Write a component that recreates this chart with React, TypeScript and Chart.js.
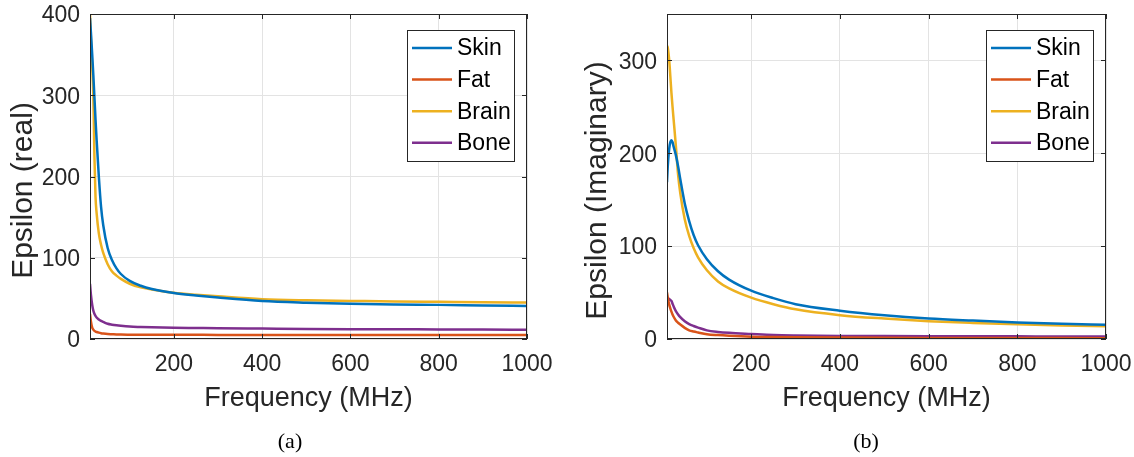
import React, { useEffect, useRef } from "react";
import { Chart, registerables } from "chart.js";

Chart.register(...registerables);

// ---------- data ----------
const freqMHz = [10, 12, 15, 17.5, 20, 22.5, 25, 30, 35, 40, 50, 60, 70, 80, 100, 125, 150, 200, 250, 300, 400, 500, 600, 700, 800, 900, 1000];

const seriesNames = ["Skin", "Fat", "Brain", "Bone"];
const seriesColors = ["#0072BD", "#D95319", "#EDB120", "#7E2F8E"];

// (a) real part
const realSkin = [395, 378, 350, 325, 298, 270, 245, 200, 163, 140, 112, 97, 87, 80, 71.5, 65.5, 61.5, 56.5, 53.5, 51, 46.8, 44.7, 43.3, 42.5, 42, 41.3, 40.7];
const realFat = [31, 22, 14, 11.5, 10, 9.2, 8.6, 7.8, 7.2, 6.8, 6.2, 5.9, 5.6, 5.4, 5.3, 5.25, 5.2, 5.15, 5.1, 5.05, 5.0, 5.0, 4.97, 4.95, 4.93, 4.92, 4.9];
const realBrain = [400, 370, 335, 300, 225, 175, 155, 130, 116, 106, 92, 83, 78, 74, 68, 63.5, 61, 57, 54.5, 52.5, 49, 47.6, 46.9, 46.2, 45.7, 45.2, 44.8];
const realBone = [68, 55, 42, 35, 31, 28.5, 26.5, 24, 22.2, 21, 18.7, 17.6, 16.8, 16.2, 15.3, 14.8, 14.4, 13.8, 13.5, 13.2, 12.8, 12.4, 12.1, 11.9, 11.8, 11.6, 11.5];

// (b) imaginary part
const imagSkin = [169, 188, 205, 212, 214, 212, 207, 198, 186, 172, 146, 127, 112, 101, 86, 73, 64, 52, 44, 37.5, 30.5, 25.5, 22, 19.8, 17.9, 16.5, 15.4];
const imagFat = [50, 44, 37, 33, 29.5, 26.5, 24, 20, 17.5, 15.5, 12, 9.3, 8, 7, 5.2, 4.2, 3.5, 2.5, 2.1, 1.8, 1.5, 1.3, 1.2, 1.1, 1.0, 0.95, 0.9];
const imagBrain = [316, 313, 300, 283, 265, 250, 236, 208, 177, 157, 129, 111, 98, 88, 74, 62, 54.5, 44.5, 37.5, 32, 25.7, 22, 19.2, 17.3, 15.8, 14.6, 13.6];
const imagBone = [43.5, 44, 43, 42, 41, 38, 35, 30, 26.5, 23.5, 19, 16, 14, 12.3, 9.3, 7.6, 6.6, 5.4, 4.3, 3.8, 3.3, 3.1, 3.0, 2.9, 2.85, 2.8, 2.8];

const xTicks = [200, 400, 600, 800, 1000];
const yTicksReal = [0, 100, 200, 300, 400];
const yTicksImag = [0, 100, 200, 300];

const xTitle = "Frequency (MHz)";
const yTitleReal = "Epsilon (real)";
const yTitleImag = "Epsilon (Imaginary)";

// ---------- styling ----------
const SANS = "'Liberation Sans', Arial, Helvetica, sans-serif";
const AXIS_COLOR = "#262626";
const GRID_COLOR = "#e3e3e3";
const W = 567;
const H = 457;

const framePlugin = {
  id: "frameTicks",
  afterDatasetsDraw(chart: any) {
    const { ctx, chartArea: a, scales } = chart;
    const xs = scales.x;
    const ys = scales.y;
    ctx.save();
    ctx.strokeStyle = AXIS_COLOR;
    ctx.lineWidth = 1;
    const L = 5;
    ctx.beginPath();
    (xs.ticks || []).forEach((t: any) => {
      const px = Math.round(xs.getPixelForValue(t.value)) + 0.5;
      ctx.moveTo(px, a.bottom);
      ctx.lineTo(px, a.bottom - L);
      ctx.moveTo(px, a.top);
      ctx.lineTo(px, a.top + L);
    });
    (ys.ticks || []).forEach((t: any) => {
      const py = Math.round(ys.getPixelForValue(t.value)) + 0.5;
      ctx.moveTo(a.left, py);
      ctx.lineTo(a.left + L, py);
      ctx.moveTo(a.right, py);
      ctx.lineTo(a.right - L, py);
    });
    ctx.stroke();
    ctx.strokeRect(a.left + 0.5, a.top + 0.5, a.right - a.left - 1, a.bottom - a.top - 1);
    ctx.restore();
  },
};

// y-axis title, drawn slightly below the axis centre as in the original figure
const yTitlePlugin = {
  id: "yTitle",
  afterDraw(chart: any, _args: any, opts: any) {
    const { ctx, chartArea: a } = chart;
    const t = chart.options.scales.y.title;
    if (!t || !t.text) return;
    ctx.save();
    ctx.translate(opts.x, (a.top + a.bottom) / 2 + opts.dy);
    ctx.rotate(-Math.PI / 2);
    ctx.fillStyle = AXIS_COLOR;
    ctx.font = `${opts.size}px ${SANS}`;
    ctx.textAlign = "center";
    ctx.textBaseline = "middle";
    ctx.fillText(t.text, 0, 0);
    ctx.restore();
  },
};

const legendPlugin = {
  id: "boxLegend",
  afterDraw(chart: any) {
    const { ctx, chartArea: a } = chart;
    const w = 107;
    const h = 131;
    const right = a.right - 13;
    const top = a.top + 16;
    const left = right - w;
    ctx.save();
    ctx.fillStyle = "#ffffff";
    ctx.fillRect(left, top, w, h);
    ctx.strokeStyle = AXIS_COLOR;
    ctx.lineWidth = 1;
    ctx.strokeRect(left + 0.5, top + 0.5, w, h);
    chart.data.datasets.forEach((ds: any, i: number) => {
      const cy = top + 18 + i * 31.6;
      ctx.strokeStyle = ds.borderColor;
      ctx.lineWidth = 2.5;
      ctx.beginPath();
      ctx.moveTo(left + 5, cy);
      ctx.lineTo(left + 45, cy);
      ctx.stroke();
      ctx.fillStyle = "#000000";
      ctx.font = `23px ${SANS}`;
      ctx.textBaseline = "middle";
      ctx.textAlign = "left";
      ctx.fillText(ds.label, left + 50, cy + 1);
    });
    ctx.restore();
  },
};

type PanelProps = {
  series: number[][];
  yMax: number;
  yTicks: number[];
  yTitle: string;
  padRight: number;
  yAxisWidth: number;
  yTitleX: number;
};

function Panel({ series, yMax, yTicks, yTitle, padRight, yAxisWidth, yTitleX }: PanelProps) {
  const ref = useRef<HTMLCanvasElement | null>(null);
  useEffect(() => {
    if (!ref.current) return;
    const datasets = series.map((vals, i) => ({
      label: seriesNames[i],
      data: freqMHz.map((f, k) => ({ x: f, y: vals[k] })),
      borderColor: seriesColors[i],
      backgroundColor: seriesColors[i],
      borderWidth: 2.5,
      pointRadius: 0,
      cubicInterpolationMode: "monotone" as const,
      fill: false,
    }));
    const chart = new Chart(ref.current, {
      type: "line",
      data: { datasets },
      plugins: [framePlugin, legendPlugin, yTitlePlugin],
      options: {
        responsive: false,
        animation: false,
        layout: { padding: { top: 14, right: padRight, left: 0, bottom: 0 } },
        plugins: {
          legend: { display: false },
          tooltip: { enabled: false },
          yTitle: { x: yTitleX, dy: 14, size: 30 },
        } as any,
        scales: {
          x: {
            type: "linear",
            min: 10,
            max: 1000,
            afterBuildTicks: (s: any) => {
              s.ticks = xTicks.map((v) => ({ value: v }));
            },
            afterFit: (s: any) => {
              s.height = 118;
              s.paddingLeft = 0;
              s.paddingRight = 0;
            },
            grid: { color: GRID_COLOR, drawTicks: false, lineWidth: 1 },
            border: { display: false },
            ticks: {
              color: AXIS_COLOR,
              font: { family: SANS, size: 23 },
              padding: 12,
              maxRotation: 0,
              autoSkip: false,
              callback: (v: any) => String(v),
            },
            title: {
              display: true,
              text: xTitle,
              color: AXIS_COLOR,
              font: { family: SANS, size: 27 },
              padding: { top: 0, bottom: 42 },
            },
          },
          y: {
            type: "linear",
            min: 0,
            max: yMax,
            afterBuildTicks: (s: any) => {
              s.ticks = yTicks.map((v) => ({ value: v }));
            },
            afterFit: (s: any) => {
              s.width = yAxisWidth;
              s.paddingTop = 0;
              s.paddingBottom = 0;
            },
            grid: { color: GRID_COLOR, drawTicks: false, lineWidth: 1 },
            border: { display: false },
            ticks: {
              color: AXIS_COLOR,
              font: { family: SANS, size: 23 },
              padding: 10,
              labelOffset: 2,
              autoSkip: false,
              callback: (v: any) => String(v),
            },
            title: {
              display: false,
              text: yTitle,
            },
          },
        },
      },
    });
    return () => chart.destroy();
  }, []);
  return <canvas ref={ref} width={W} height={H} style={{ width: W, height: H, display: "block" }} />;
}

const captionStyle: React.CSSProperties = {
  position: "absolute",
  top: 429,
  fontFamily: "'Liberation Serif', 'DejaVu Serif', serif",
  fontSize: 22,
  lineHeight: "24px",
  color: "#000",
  transform: "translateX(-50%)",
  whiteSpace: "nowrap",
};

export default function App() {
  return (
    <div
      style={{
        position: "fixed",
        left: 0,
        top: 0,
        width: 1134,
        height: 457,
        background: "#ffffff",
        overflow: "hidden",
      }}
    >
      <div style={{ position: "absolute", left: 0, top: 0 }}>
        <Panel
          series={[realSkin, realFat, realBrain, realBone]}
          yMax={400}
          yTicks={yTicksReal}
          yTitle={yTitleReal}
          padRight={40}
          yAxisWidth={90}
          yTitleX={24}
        />
      </div>
      <div style={{ position: "absolute", left: 567, top: 0 }}>
        <Panel
          series={[imagSkin, imagFat, imagBrain, imagBone]}
          yMax={350}
          yTicks={yTicksImag}
          yTitle={yTitleImag}
          padRight={28}
          yAxisWidth={100}
          yTitleX={31}
        />
      </div>
      <div style={{ ...captionStyle, left: 290 }}>(a)</div>
      <div style={{ ...captionStyle, left: 866 }}>(b)</div>
    </div>
  );
}
